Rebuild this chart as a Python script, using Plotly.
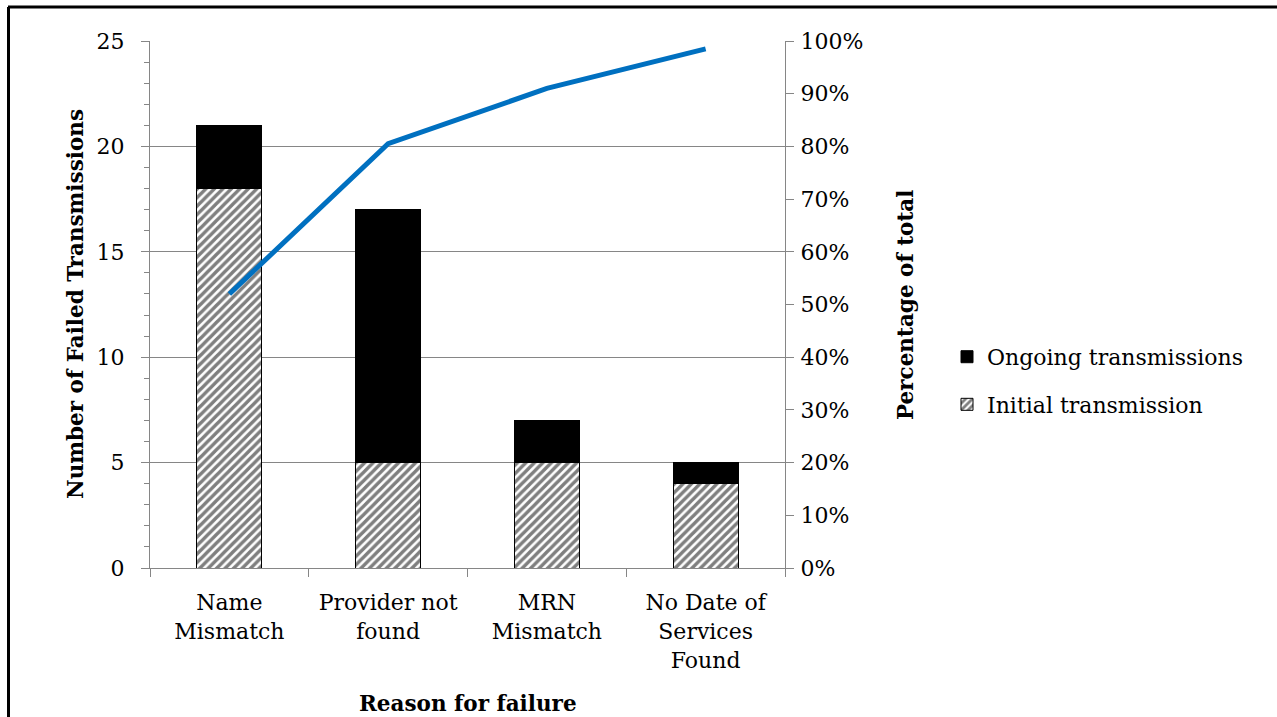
import plotly.graph_objects as go

# Failed transmissions by reason
categories = ["Name<br>Mismatch", "Provider not<br>found", "MRN<br>Mismatch", "No Date of<br>Services<br>Found"]
initial_transmission = [18, 5, 5, 4]
ongoing_transmissions = [3, 12, 2, 1]
cumulative_pct = [0.52, 0.805, 0.91, 0.985]

FONT = "DejaVu Serif"
GRID = "#868686"
W, H = 1277, 717
L, R, T, B = 150, 492, 41, 149

fig = go.Figure()

fig.add_trace(go.Bar(
    x=categories, y=initial_transmission, name="Initial transmission",
    legendgroup="initial", legendrank=2,
    marker=dict(color="white", line=dict(color="black", width=1),
                pattern=dict(shape="/", size=6, solidity=0.58,
                             fgcolor="black", bgcolor="white", fillmode="overlay")),
))
fig.add_trace(go.Bar(
    x=categories, y=ongoing_transmissions, name="Ongoing transmissions",
    legendgroup="ongoing", legendrank=1,
    marker=dict(color="black", line=dict(color="black", width=1)),
))
fig.add_trace(go.Scatter(
    x=categories, y=cumulative_pct, yaxis="y2", mode="lines",
    line=dict(color="#0070C0", width=5), showlegend=False,
))

fig.update_layout(
    width=W, height=H,
    margin=dict(l=L, r=R, t=T, b=B),
    paper_bgcolor="white", plot_bgcolor="white",
    barmode="stack", bargap=0.59,
    font=dict(family=FONT, size=22, color="black"),
    xaxis=dict(
        showline=True, linecolor=GRID, linewidth=1,
        ticks="outside", tickson="boundaries", ticklen=8, tickcolor=GRID,
        tickfont=dict(size=22), showgrid=False, ticklabelstandoff=15,
    ),
    yaxis=dict(
        range=[0, 25], dtick=5, showgrid=True, gridcolor=GRID, gridwidth=1,
        showline=True, linecolor=GRID, linewidth=1,
        ticks="outside", ticklen=8, tickcolor=GRID,
        minor=dict(dtick=1, ticks="outside", ticklen=5, tickcolor=GRID, showgrid=False),
        tickfont=dict(size=22), zeroline=False, ticklabelstandoff=12,
    ),
    yaxis2=dict(
        overlaying="y", side="right", range=[0, 1], dtick=0.1, tickformat=".0%",
        showgrid=False, showline=True, linecolor=GRID, linewidth=1,
        ticks="outside", ticklen=8, tickcolor=GRID, tickfont=dict(size=22),
        zeroline=False, ticklabelstandoff=2,
    ),
    legend=dict(
        x=(947 - L) / (W - L - R), y=0.355, xanchor="left", yanchor="middle",
        traceorder="grouped", tracegroupgap=16,
        font=dict(size=22), itemwidth=30, bgcolor="rgba(0,0,0,0)",
    ),
    showlegend=True,
)

# Axis titles
TITLE = dict(size=21.5)
pw, ph = W - L - R, H - T - B
fig.add_annotation(text="<b>Number of Failed Transmissions</b>", textangle=-90,
                   xref="paper", yref="paper", x=(75 - L) / pw, y=(568 - 304) / ph,
                   xanchor="center", yanchor="middle", showarrow=False, font=TITLE)
fig.add_annotation(text="<b>Percentage of total</b>", textangle=-90,
                   xref="paper", yref="paper", x=(905 - L) / pw, y=(568 - 305) / ph,
                   xanchor="center", yanchor="middle", showarrow=False, font=TITLE)
fig.add_annotation(text="<b>Reason for failure</b>",
                   xref="paper", yref="paper", x=(468 - L) / pw, y=(568 - 703) / ph,
                   xanchor="center", yanchor="middle", showarrow=False, font=TITLE)

# Frame lines along the top and left edge
fig.add_shape(type="line", xref="paper", yref="paper",
              x0=(8 - L) / pw, x1=(W - L) / pw, y0=(568 - 7) / ph, y1=(568 - 7) / ph,
              line=dict(color="black", width=3))
fig.add_shape(type="line", xref="paper", yref="paper",
              x0=(8.5 - L) / pw, x1=(8.5 - L) / pw, y0=(568 - 7) / ph, y1=(568 - H) / ph,
              line=dict(color="black", width=3))

fig.write_html("out.html")
